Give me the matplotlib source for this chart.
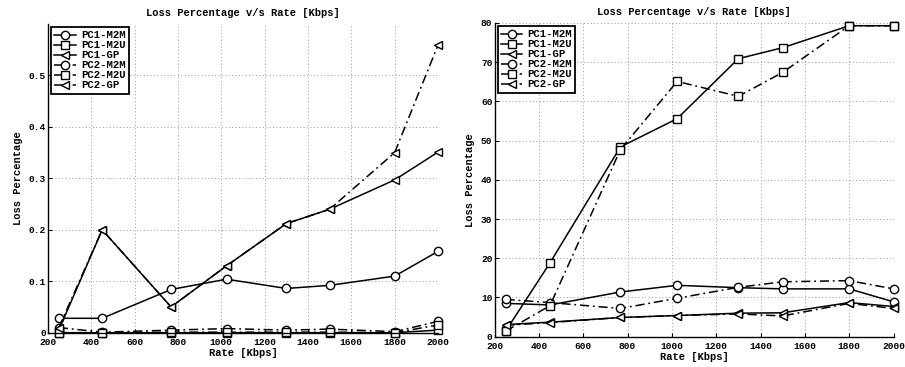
import matplotlib
matplotlib.use('Agg')
import matplotlib.pyplot as plt
import numpy as np

plt.rcParams['font.family'] = ['Liberation Mono', 'DejaVu Sans Mono']
plt.rcParams['font.weight'] = 'bold'

rate = [250, 450, 768, 1024, 1300, 1500, 1800, 2000]
names = ['PC1-M2M', 'PC1-M2U', 'PC1-GP', 'PC2-M2M', 'PC2-M2U', 'PC2-GP']

# left panel
L_pc1_m2m = [0.028, 0.028, 0.084, 0.104, 0.086, 0.092, 0.110, 0.158]
L_pc1_m2u = [0.0, 0.0, 0.0, 0.0, 0.0, 0.0, 0.0, 0.005]
L_pc1_gp = [0.005, 0.200, 0.050, 0.130, 0.212, 0.240, 0.297, 0.351]
L_pc2_m2m = [0.010, 0.001, 0.005, 0.008, 0.005, 0.007, 0.002, 0.022]
L_pc2_m2u = [0.0, 0.0, 0.001, 0.001, 0.001, 0.001, 0.0, 0.015]
L_pc2_gp = [0.010, 0.200, 0.050, 0.130, 0.212, 0.240, 0.350, 0.559]

# right panel
R_pc1_m2m = [8.5, 8.1, 11.4, 13.1, 12.5, 12.2, 12.2, 8.9]
R_pc1_m2u = [1.4, 18.8, 48.4, 55.6, 70.9, 73.7, 79.3, 79.3]
R_pc1_gp = [3.1, 3.7, 4.9, 5.4, 6.0, 6.1, 8.7, 7.7]
R_pc2_m2m = [9.5, 8.7, 7.2, 9.8, 12.6, 14.0, 14.3, 12.2]
R_pc2_m2u = [1.4, 7.9, 47.7, 65.1, 61.3, 67.4, 79.3, 79.3]
R_pc2_gp = [2.9, 3.6, 4.9, 5.4, 5.8, 5.3, 8.5, 7.2]

markers = ['o', 's', '<', 'o', 's', '<']
dashdot = (0, (6, 2.5, 1.2, 2.5))
styles = ['-', '-', '-', dashdot, dashdot, dashdot]

fig = plt.figure(figsize=(9.05, 3.67), dpi=100)
axL = fig.add_axes([48/905, 1-332.7/367, 390/905, (332.7-24)/367])
axR = fig.add_axes([494.5/905, 1-336.7/367, 399/905, (336.7-23)/367])

def draw(ax, series, ylim, yticks, ylabs):
    for ys, mk, ls, nm in zip(series, markers, styles, names):
        ax.plot(rate, ys, linestyle=ls, color='k', lw=1.1, marker=mk, ms=6,
                mfc='white', mec='k', mew=1.0, label=nm, clip_on=False)
    ax.set_xlim(200, 2000)
    ax.set_ylim(*ylim)
    ax.set_xticks(np.arange(200, 2001, 200))
    ax.set_yticks(yticks)
    ax.set_yticklabels(ylabs)
    ax.tick_params(direction='in', length=3, labelsize=6.8, width=0.8)
    ax.tick_params(axis='x', pad=3.5)
    ax.tick_params(axis='y', pad=1.5)
    for lab in ax.get_xticklabels() + ax.get_yticklabels():
        lab.set_fontweight('bold')
    ax.grid(True, linestyle=(0, (1, 2.5)), color='#999999', lw=0.7)
    ax.spines['top'].set_visible(False)
    ax.spines['right'].set_visible(False)
    ax.spines['left'].set_linewidth(1.0)
    ax.spines['bottom'].set_linewidth(1.0)
    ax.set_title('Loss Percentage v/s Rate [Kbps]', fontsize=7.5, fontweight='bold', pad=6)
    ax.set_xlabel('Rate [Kbps]', fontsize=7.5, fontweight='bold', labelpad=1)
    ax.set_ylabel('Loss Percentage', fontsize=7.5, fontweight='bold', labelpad=4)
    leg = ax.legend(loc='upper left', fontsize=7.7, numpoints=1, handlelength=2.0,
                    labelspacing=0.0, borderpad=0.3, borderaxespad=0.3,
                    handletextpad=0.5, fancybox=False, framealpha=1)
    leg.get_frame().set_edgecolor('k')
    leg.get_frame().set_linewidth(1.3)
    for t in leg.get_texts():
        t.set_fontweight('bold')

draw(axL, [L_pc1_m2m, L_pc1_m2u, L_pc1_gp, L_pc2_m2m, L_pc2_m2u, L_pc2_gp],
     (0, 0.6), [0, 0.1, 0.2, 0.3, 0.4, 0.5], ['0', '0.1', '0.2', '0.3', '0.4', '0.5'])
draw(axR, [R_pc1_m2m, R_pc1_m2u, R_pc1_gp, R_pc2_m2m, R_pc2_m2u, R_pc2_gp],
     (0, 80), np.arange(0, 81, 10), [str(v) for v in range(0, 81, 10)])

fig.savefig('out.png', dpi=100)
